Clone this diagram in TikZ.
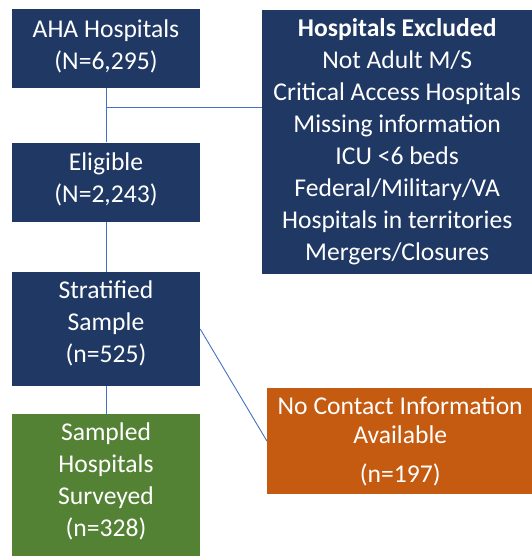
\documentclass[tikz,border=0pt]{standalone}
\usepackage{fontspec}
\setmainfont{Carlito}
\usetikzlibrary{positioning,calc}

\definecolor{navy}{HTML}{203864}
\definecolor{leaf}{HTML}{548235}
\definecolor{rust}{HTML}{C55A11}
\definecolor{wire}{HTML}{4472C4}

\begin{document}
\begin{tikzpicture}[
    font=\fontsize{25.6}{32}\selectfont,
    box/.style={fill=navy, text=white, align=center, inner sep=0pt,
      minimum width=188pt, anchor=north},
    stepbox/.style={box, text depth=14pt},
    link/.style={draw=wire, line width=0.9pt}
  ]
  \useasboundingbox (0,0) rectangle (531pt,-556pt);
  % left column
  \node[stepbox, text depth=8pt, minimum height=79pt] (b1) at (106pt,-9pt)
    {AHA Hospitals\\(N=6,295)};
  \node[stepbox, text depth=8pt, minimum height=79pt, below=54pt of b1] (b2)
    {Eligible\\(N=2,243)};
  \node[stepbox, minimum height=114pt, below=50pt of b2] (b3) {Stratified\\Sample\\(n=525)};
  \node[stepbox, fill=leaf, minimum height=145pt, below=28pt of b3] (b4)
    {Sampled\\Hospitals\\Surveyed\\(n=328)};
  % right column
  \node[box, anchor=north west, minimum width=270pt, minimum height=264pt] (x1)
    at (262pt,-10pt)
    {\textbf{Hospitals Excluded}\\Not Adult M/S\\Critical Access Hospitals\\
     Missing information\\ICU <6 beds\\Federal/Military/VA\\
     Hospitals in territories\\Mergers/Closures};
  \node[box, fill=rust, anchor=north west, minimum width=266pt, minimum height=106pt,
    font=\fontsize{25.6}{29}\selectfont] (x2) at (267pt,-388pt)
    {No Contact Information\\Available\\[10pt](n=197)};
  \coordinate (j1) at ($(b1.south)!0.35!(b2.north)$);
  \draw[link] (b1) -- (b2);
  \draw[link] (j1) -- (j1 -| x1.west);
  \draw[link] (b2) -- (b3);
  \draw[link] (b3) -- (b4);
  \draw[link] (b3.east) -- (x2.west);
\end{tikzpicture}
\end{document}
